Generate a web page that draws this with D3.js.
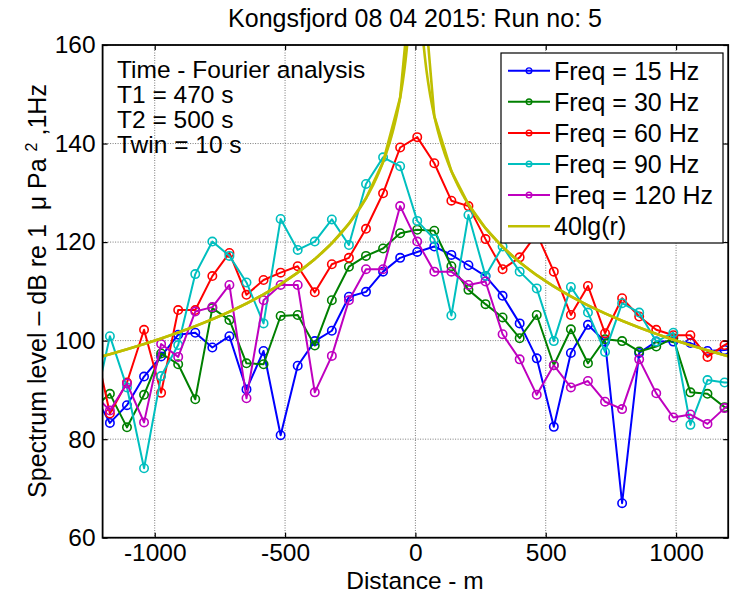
<!DOCTYPE html>
<html>
<head>
<meta charset="utf-8">
<script src="https://cdn.jsdelivr.net/npm/d3@7"></script>
<style>
  body { margin: 0; background: #fff; }
  svg { display: block; font-family: "Liberation Sans", Arial, sans-serif; }
  text { white-space: pre; }
</style>
</head>
<body>
<svg id="chart" width="730" height="593"></svg>
<script>
// Measurement positions along the track (m)
const distances = [-1237.5, -1172, -1106.5, -1041, -975.5, -910, -844.5, -779, -713.5, -648,
  -582.5, -517, -451.5, -386, -320.5, -255, -189.5, -124, -58.5, 7, 72.5, 138, 203.5, 269,
  334.5, 400, 465.5, 531, 596.5, 662, 727.5, 793, 858.5, 924, 989.5, 1055, 1120.5, 1186, 1251.5];

// Spectrum levels (dB re 1 uPa^2, 1Hz) per frequency
const level15 = [89.6, 83.3, 86.9, 92.7, 96.8, 101.2, 101.6, 98.6, 100.9, 90.1,
  97.9, 80.8, 94.9, 99.9, 102.0, 108.9, 109.9, 114.0, 116.8, 118.0, 119.1, 117.4, 115.3, 113.1,
  109.1, 103.5, 96.4, 82.5, 97.5, 103.2, 99.8, 67.0, 97.5, 99.8, 99.8, 99.5, 97.9, 98.1, 98.5];
const level30 = [86.2, 89.2, 82.4, 89.0, 97.4, 95.2, 88.1, 106.6, 104.2, 95.4,
  95.2, 105.0, 105.2, 99.0, 108.2, 115.0, 117.2, 118.7, 121.8, 122.5, 122.3, 115.1, 110.3, 107.4,
  104.7, 100.5, 105.2, 95.0, 102.3, 95.4, 100.3, 99.9, 97.8, 98.8, 100.5, 89.5, 89.2, 86.5, 85.5];
const level60 = [101.0, 85.2, 91.5, 102.2, 89.4, 106.2, 106.2, 113.1, 117.8, 109.3,
  112.3, 113.8, 115.1, 109.8, 115.5, 116.8, 122.7, 129.9, 139.2, 141.3, 136.0, 128.4, 127.3, 120.6,
  114.5, 116.9, 121.7, 114.0, 105.2, 111.1, 101.5, 108.6, 104.9, 102.2, 101.1, 101.1, 96.7, 99.1, 101.0];
const level90 = [85.1, 100.9, 90.5, 74.1, 92.8, 99.1, 113.5, 120.1, 117.2, 111.8,
  103.5, 124.7, 118.4, 120.1, 124.6, 119.4, 131.8, 137.2, 135.4, 124.3, 120.6, 105.1, 125.5, 113.1,
  119.1, 114.0, 110.6, 99.9, 110.9, 105.7, 97.7, 107.6, 105.7, 99.8, 101.6, 82.9, 92.0, 91.5, 91.5];
const level120 = [89.4, 85.8, 91.3, 83.4, 99.3, 96.7, 105.9, 106.8, 111.3, 88.3,
  108.2, 111.3, 111.3, 89.5, 96.9, 108.2, 114.5, 114.5, 127.3, 120.1, 114.0, 114.0, 111.3, 112.0,
  101.3, 96.2, 89.0, 95.0, 90.5, 91.8, 87.6, 86.1, 96.2, 89.3, 84.4, 85.0, 83.1, 86.3, 88.5];

const seriesNames = ["Freq = 15 Hz", "Freq = 30 Hz", "Freq = 60 Hz", "Freq = 90 Hz", "Freq = 120 Hz"];
const seriesColors = ["#0000ff", "#008000", "#ff0000", "#00bfbf", "#bf00bf"];
const seriesValues = [level15, level30, level60, level90, level120];

// Spreading-loss reference: L = sourceLevel - 40 lg(r)
const modelName = "40lg(r)";
const modelColor = "#bfbf00";
const sourceLevel = 220;

const xTicks = [-1000, -500, 0, 500, 1000];
const yTicks = [60, 80, 100, 120, 140, 160];
const xDomain = [-1200, 1200];
const yDomain = [60, 160];

const titleText = "Kongsfjord 08 04 2015: Run no: 5";
const xLabel = "Distance - m";
const infoLines = ["Time - Fourier analysis", "T1 = 470 s", "T2 = 500 s", "Twin = 10 s"];

// ---- layout ----
const plot = { left: 102.6, right: 728.2, top: 45, bottom: 537.7 };
const fontSize = 25;
const tickFontSize = 24.5;
const infoFontSize = 24.5;

const svg = d3.select("#chart");
const x = d3.scaleLinear().domain(xDomain).range([plot.left, plot.right]);
const y = d3.scaleLinear().domain(yDomain).range([plot.bottom, plot.top]);

svg.append("defs").append("clipPath").attr("id", "plot-clip")
  .append("rect")
  .attr("x", plot.left).attr("y", plot.top)
  .attr("width", plot.right - plot.left).attr("height", plot.bottom - plot.top);

// dotted grid
const grid = svg.append("g").attr("stroke", "#7a7a7a").attr("stroke-width", 1)
  .attr("stroke-dasharray", "1,1.5");
grid.selectAll("line.gx").data(xTicks).join("line").attr("class", "gx")
  .attr("x1", d => x(d)).attr("x2", d => x(d))
  .attr("y1", plot.top).attr("y2", plot.bottom);
grid.selectAll("line.gy").data(yTicks).join("line").attr("class", "gy")
  .attr("y1", d => y(d)).attr("y2", d => y(d))
  .attr("x1", plot.left).attr("x2", plot.right);

// info text block
const info = svg.append("g").attr("font-size", infoFontSize).attr("fill", "#000");
info.selectAll("text").data(infoLines).join("text")
  .attr("x", 117).attr("y", (d, i) => 77.5 + i * 25)
  .text(d => d);

// data series
const dataLayer = svg.append("g").attr("clip-path", "url(#plot-clip)");
const line = d3.line().x(d => x(d.x)).y(d => y(d.v));

seriesValues.forEach((vals, si) => {
  const pts = distances.map((dx, i) => ({ x: dx, v: vals[i] }));
  const g = dataLayer.append("g");
  g.append("path").datum(pts)
    .attr("d", line)
    .attr("fill", "none")
    .attr("stroke", seriesColors[si])
    .attr("stroke-width", 2)
    .attr("stroke-linejoin", "round");
  g.selectAll("circle").data(pts).join("circle")
    .attr("cx", d => x(d.x)).attr("cy", d => y(d.v)).attr("r", 4.2)
    .attr("fill", "none")
    .attr("stroke", seriesColors[si])
    .attr("stroke-width", 1.6);
});

// 40lg(r) model: fine curve on each side, plus evaluation at measurement positions
const model = r => sourceLevel - 40 * Math.log10(Math.abs(r));
const leftSide = d3.range(xDomain[0], 0, 1).map(r => ({ x: r, v: model(r) }));
const rightSide = d3.range(1, xDomain[1] + 1, 1).map(r => ({ x: r, v: model(r) }));
const atPositions = distances.map(r => ({ x: r, v: model(r) }));
const modelLine = d3.line().x(d => x(d.x)).y(d => y(Math.min(d.v, 400)));
[leftSide, rightSide, atPositions].forEach(pts => {
  dataLayer.append("path").datum(pts)
    .attr("d", modelLine)
    .attr("fill", "none")
    .attr("stroke", modelColor)
    .attr("stroke-width", 2.6)
    .attr("stroke-linejoin", "round");
});

// axes (inward ticks on all four sides)
const tickLen = 5;
const axB = svg.append("g").attr("transform", `translate(0,${plot.bottom})`)
  .call(d3.axisBottom(x).tickValues(xTicks).tickSizeInner(-tickLen).tickSizeOuter(0)
    .tickPadding(6).tickFormat(d => String(d)));
const axT = svg.append("g").attr("transform", `translate(0,${plot.top})`)
  .call(d3.axisTop(x).tickValues(xTicks).tickSizeInner(-tickLen).tickSizeOuter(0).tickFormat(""));
const axL = svg.append("g").attr("transform", `translate(${plot.left},0)`)
  .call(d3.axisLeft(y).tickValues(yTicks).tickSizeInner(-tickLen).tickSizeOuter(0)
    .tickPadding(7).tickFormat(d => String(d)));
const axR = svg.append("g").attr("transform", `translate(${plot.right},0)`)
  .call(d3.axisRight(y).tickValues(yTicks).tickSizeInner(-tickLen).tickSizeOuter(0).tickFormat(""));
[axB, axT, axL, axR].forEach(a => {
  a.select(".domain").remove();
  a.selectAll(".tick line").attr("stroke", "#000").attr("stroke-width", 1.2);
  a.selectAll(".tick text").attr("font-size", tickFontSize).attr("font-family", null).attr("fill", "#000");
});

// frame
svg.append("rect")
  .attr("x", plot.left).attr("y", plot.top)
  .attr("width", plot.right - plot.left).attr("height", plot.bottom - plot.top)
  .attr("fill", "none").attr("stroke", "#000").attr("stroke-width", 1.8);

// legend
const legend = svg.append("g");
const legendBox = { x: 501, y: 53, w: 222, h: 190 };
legend.append("rect")
  .attr("x", legendBox.x).attr("y", legendBox.y)
  .attr("width", legendBox.w).attr("height", legendBox.h)
  .attr("fill", "#fff").attr("stroke", "#000").attr("stroke-width", 1.2);
const legendItems = seriesNames.map((n, i) => ({ name: n, color: seriesColors[i], marker: true }))
  .concat([{ name: modelName, color: modelColor, marker: false }]);
const rowY = i => 70.7 + i * 31.1;
const items = legend.selectAll("g.item").data(legendItems).join("g").attr("class", "item");
items.append("line")
  .attr("x1", 508).attr("x2", 550)
  .attr("y1", (d, i) => rowY(i)).attr("y2", (d, i) => rowY(i))
  .attr("stroke", d => d.color).attr("stroke-width", d => d.marker ? 2 : 2.6);
items.filter(d => d.marker).append("circle")
  .attr("cx", 529).attr("cy", (d, i) => rowY(i)).attr("r", 2.8)
  .attr("fill", "none").attr("stroke", d => d.color).attr("stroke-width", 1.4);
items.append("text")
  .attr("x", 554).attr("y", (d, i) => rowY(i) + 8.8)
  .attr("font-size", fontSize)
  .text(d => d.name);

// title and axis labels
svg.append("text")
  .attr("x", 415).attr("y", 27)
  .attr("text-anchor", "middle").attr("font-size", fontSize)
  .text(titleText);
svg.append("text")
  .attr("x", 415).attr("y", 589)
  .attr("text-anchor", "middle").attr("font-size", 24.5)
  .text(xLabel);
const yl = svg.append("text")
  .attr("transform", `translate(46,291) rotate(-90)`)
  .attr("text-anchor", "middle").attr("font-size", fontSize);
yl.append("tspan").text("Spectrum level \u2013 dB re 1  \u03bc Pa ");
yl.append("tspan").attr("dy", -9).attr("font-size", 16).text("2");
yl.append("tspan").attr("dy", 9).text(" ,1Hz");
</script>
</body>
</html>
